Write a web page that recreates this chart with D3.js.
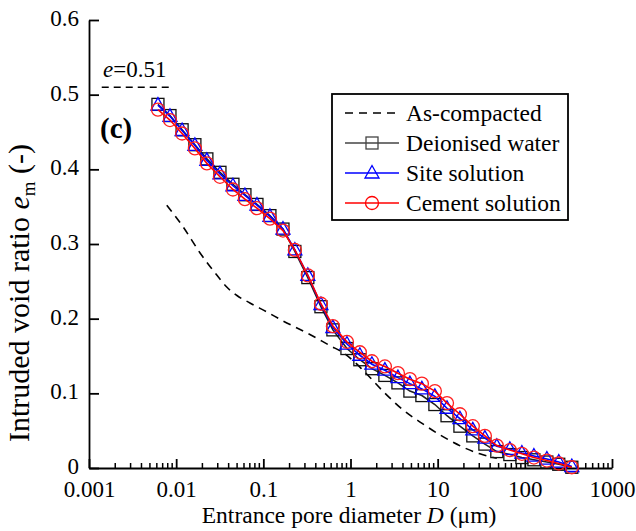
<!DOCTYPE html>
<html>
<head>
<meta charset="utf-8">
<script src="https://cdn.jsdelivr.net/npm/d3@7"></script>
<style>
  body { margin: 0; background: #fff; }
</style>
</head>
<body>
<div id="chart"></div>
<script>
// pore diameters (um) of the MIP readings
const diameters = [0.00618, 0.00849, 0.0117, 0.0164, 0.0225, 0.0318, 0.0448, 0.0615, 0.0845, 0.119,
  0.168, 0.230, 0.324, 0.458, 0.628, 0.91, 1.28, 1.76, 2.48, 3.50,
  4.80, 6.59, 9.29, 12.8, 18.0, 25.3, 34.8, 47.7, 67.3, 92.5,
  127, 179, 245, 346];

const deionised = [0.487, 0.472, 0.453, 0.433, 0.414, 0.396, 0.380, 0.366, 0.353, 0.338,
  0.320, 0.290, 0.255, 0.216, 0.185, 0.160, 0.145, 0.133, 0.124, 0.114,
  0.103, 0.097, 0.085, 0.070, 0.056, 0.043, 0.032, 0.022, 0.018, 0.014,
  0.011, 0.008, 0.005, 0.001];

const site = [0.486, 0.471, 0.452, 0.432, 0.412, 0.394, 0.378, 0.365, 0.352, 0.337,
  0.320, 0.292, 0.258, 0.219, 0.188, 0.166, 0.151, 0.139, 0.131, 0.121,
  0.113, 0.106, 0.096, 0.080, 0.066, 0.051, 0.040, 0.029, 0.025, 0.020,
  0.016, 0.012, 0.008, 0.002];

const cement = [0.480, 0.466, 0.448, 0.428, 0.408, 0.390, 0.373, 0.360, 0.348, 0.334,
  0.318, 0.292, 0.258, 0.220, 0.190, 0.169, 0.155, 0.143, 0.136, 0.127,
  0.119, 0.113, 0.103, 0.087, 0.072, 0.056, 0.043, 0.030, 0.024, 0.019,
  0.014, 0.010, 0.006, 0.001];

// as-compacted curve
const compactD = [0.0078, 0.012, 0.0188, 0.0294, 0.0383, 0.0498, 0.0702, 0.110, 0.168, 0.316,
  0.58, 0.86, 1.39, 2.35, 3.99, 6.77, 11.5, 19.4, 30.5, 47.7];
const compactE = [0.352, 0.323, 0.288, 0.258, 0.242, 0.231, 0.221, 0.209, 0.197, 0.181,
  0.164, 0.153, 0.131, 0.103, 0.078, 0.059, 0.042, 0.028, 0.019, 0.013];

const initialVoid = 0.51;
const initialSpan = [0.0014, 0.009];

const xTicks = [0.001, 0.01, 0.1, 1, 10, 100, 1000];
const xTickLabels = ['0.001', '0.01', '0.1', '1', '10', '100', '1000'];
const yTicks = [0, 0.1, 0.2, 0.3, 0.4, 0.5, 0.6];
const yTickLabels = ['0', '0.1', '0.2', '0.3', '0.4', '0.5', '0.6'];

const legendNames = ['As-compacted', 'Deionised water', 'Site solution', 'Cement solution'];

const width = 636, height = 531;
const svg = d3.select('#chart').append('svg')
  .attr('width', width)
  .attr('height', height);

const x = d3.scaleLog().domain([0.001, 1000]).range([89, 612]);
const y = d3.scaleLinear().domain([0, 0.6]).range([468, 20]);

// axes
const yAxis = d3.axisLeft(y)
  .tickValues(yTicks)
  .tickFormat((d, i) => yTickLabels[i])
  .tickSizeInner(-10)
  .tickSizeOuter(0)
  .tickPadding(10);

svg.append('g')
  .attr('transform', `translate(${x.range()[0]},0)`)
  .call(yAxis)
  .call(g => g.selectAll('text').style('font-size', '23px').attr('dy', '0.24em'))
  .call(g => g.selectAll('line, path').attr('stroke', '#000').attr('stroke-width', 1.8));

const minor = [];
for (let p = -3; p < 3; p++) {
  for (let k = 2; k <= 9; k++) minor.push(k * Math.pow(10, p));
}

const xAxis = d3.axisBottom(x)
  .tickValues(xTicks)
  .tickFormat((d, i) => xTickLabels[i])
  .tickSizeInner(-9)
  .tickSizeOuter(0)
  .tickPadding(13);

const gx = svg.append('g')
  .attr('transform', `translate(0,${y.range()[0]})`)
  .call(xAxis)
  .call(g => g.selectAll('text').style('font-size', '23px'))
  .call(g => g.selectAll('line, path').attr('stroke', '#000').attr('stroke-width', 1.8));

gx.selectAll('.minor')
  .data(minor)
  .enter()
  .append('line')
  .attr('class', 'minor')
  .attr('x1', d => x(d)).attr('x2', d => x(d))
  .attr('y1', 0).attr('y2', -5)
  .attr('stroke', '#000')
  .attr('stroke-width', 1.5);

// axis titles
svg.append('text')
  .attr('x', 349)
  .attr('y', 523)
  .attr('text-anchor', 'middle')
  .style('font-size', '23.5px')
  .html('Entrance pore diameter <tspan font-style="italic">D</tspan> (μm)');

svg.append('text')
  .attr('transform', 'translate(29,293) rotate(-90)')
  .attr('text-anchor', 'middle')
  .style('font-size', '30px')
  .html('Intruded void ratio <tspan font-style="italic">e</tspan><tspan dy="6" font-size="19px">m</tspan><tspan dy="-6"> (-)</tspan>');

// initial void ratio line
svg.append('line')
  .attr('x1', x(initialSpan[0])).attr('x2', x(initialSpan[1]))
  .attr('y1', y(initialVoid)).attr('y2', y(initialVoid))
  .attr('stroke', '#000')
  .attr('stroke-width', 1.5)
  .attr('stroke-dasharray', '7,5');

svg.append('text')
  .attr('x', 103)
  .attr('y', 77)
  .style('font-size', '23px')
  .html('<tspan font-style="italic">e</tspan>=' + initialVoid);

svg.append('text')
  .attr('x', 100)
  .attr('y', 138)
  .style('font-size', '29px')
  .style('font-weight', 'bold')
  .text('(c)');

// as-compacted
const line = d3.line()
  .x(d => x(d[0]))
  .y(d => y(d[1]))
  .curve(d3.curveMonotoneX);

svg.append('path')
  .datum(compactD.map((d, i) => [d, compactE[i]]))
  .attr('fill', 'none')
  .attr('stroke', '#000')
  .attr('stroke-width', 1.6)
  .attr('stroke-dasharray', '8,6')
  .attr('d', line);

// marker shapes
function drawMarker(g, type, color, cx, cy) {
  if (type === 'square') {
    g.append('rect')
      .attr('x', cx - 6).attr('y', cy - 6)
      .attr('width', 12).attr('height', 12)
      .attr('fill', 'none').attr('stroke', color).attr('stroke-width', 1.3);
  } else if (type === 'triangle') {
    g.append('path')
      .attr('d', `M${cx},${cy - 7.5}L${cx + 7},${cy + 5}L${cx - 7},${cy + 5}Z`)
      .attr('fill', 'none').attr('stroke', color).attr('stroke-width', 1.3);
  } else {
    g.append('circle')
      .attr('cx', cx).attr('cy', cy).attr('r', 6.5)
      .attr('fill', 'none').attr('stroke', color).attr('stroke-width', 1.3);
  }
}

const series = [
  { values: deionised, line: '#222', marker: '#111', type: 'square' },
  { values: site, line: '#0000ff', marker: '#0000ff', type: 'triangle' },
  { values: cement, line: '#ff0000', marker: '#ff2020', type: 'circle' }
];

series.forEach(s => {
  const pts = diameters.map((d, i) => [d, s.values[i]]);
  const g = svg.append('g');
  g.append('path')
    .datum(pts)
    .attr('fill', 'none')
    .attr('stroke', s.line)
    .attr('stroke-width', 1.6)
    .attr('d', d3.line().x(d => x(d[0])).y(d => y(d[1])));
  pts.forEach(p => drawMarker(g, s.type, s.marker, x(p[0]), y(p[1])));
});

// legend
const legend = svg.append('g');
legend.append('rect')
  .attr('x', 332).attr('y', 94)
  .attr('width', 236).attr('height', 126)
  .attr('fill', '#fff')
  .attr('stroke', '#000')
  .attr('stroke-width', 1.8);

const legendStyles = [
  { color: '#000', dash: '8,6', type: null },
  { color: '#444', dash: null, type: 'square' },
  { color: '#0000ff', dash: null, type: 'triangle' },
  { color: '#ff0000', dash: null, type: 'circle' }
];

legendNames.forEach((name, i) => {
  const ly = 113 + i * 30;
  const st = legendStyles[i];
  legend.append('line')
    .attr('x1', 345).attr('x2', 399)
    .attr('y1', ly).attr('y2', ly)
    .attr('stroke', st.color)
    .attr('stroke-width', 1.6)
    .attr('stroke-dasharray', st.dash);
  if (st.type) drawMarker(legend, st.type, st.color, 372, ly);
  legend.append('text')
    .attr('x', 406)
    .attr('y', ly)
    .attr('dy', '0.35em')
    .style('font-size', '23.5px')
    .text(name);
});

// every text in Times-like serif
svg.selectAll('text')
  .style('font-family', 'Liberation Serif')
  .style('fill', '#000');
</script>
</body>
</html>
